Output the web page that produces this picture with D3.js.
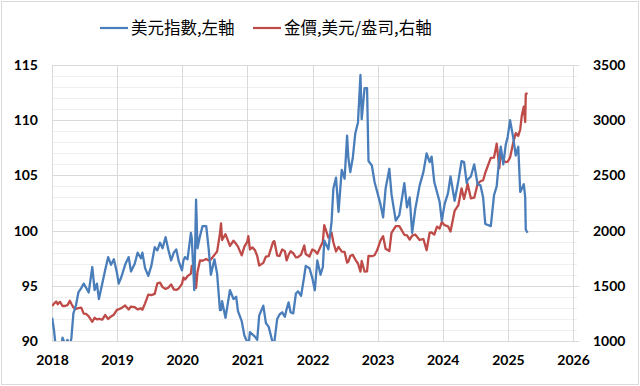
<!DOCTYPE html>
<meta charset="utf-8">
<style>
  body { margin: 0; background: #fff; }
  .tick text { font-family: Lato, "Open Sans", sans-serif; font-weight: 700; font-size: 14px; fill: #000; }
  .legend text { font-family: "Noto Sans CJK TC", "Noto Sans", sans-serif; font-size: 16.5px; fill: #000; }
</style>
<div id="chart"></div>
<script src="https://d3js.org/d3.v7.min.js"></script>
<script>

// dates with both series
var dates = [
  "2018-01-02","2018-01-12","2018-01-25","2018-02-02","2018-02-15","2018-03-01","2018-03-15","2018-03-29","2018-04-11","2018-04-20",
  "2018-05-01","2018-05-15","2018-05-29","2018-06-14","2018-06-28","2018-07-12","2018-07-26","2018-08-15","2018-08-28","2018-09-10",
  "2018-09-21","2018-10-10","2018-10-26","2018-11-12","2018-11-28","2018-12-14","2018-12-31",
  "2019-01-10","2019-01-25","2019-02-15","2019-03-07","2019-03-20","2019-04-10","2019-04-26","2019-05-15","2019-05-23","2019-06-07",
  "2019-06-25","2019-07-12","2019-07-31","2019-08-15","2019-08-30","2019-09-13","2019-09-30","2019-10-15","2019-10-31","2019-11-15",
  "2019-11-29","2019-12-13","2019-12-31",
  "2020-01-08","2020-01-17","2020-01-31","2020-02-19","2020-02-24","2020-03-09","2020-03-19","2020-03-27","2020-04-10","2020-04-24",
  "2020-05-15","2020-05-29","2020-06-10","2020-06-30","2020-07-15","2020-07-31","2020-08-06","2020-08-12","2020-08-31","2020-09-25",
  "2020-10-15","2020-10-30","2020-11-09","2020-11-30","2020-12-15","2020-12-31",
  "2021-01-06","2021-01-15","2021-01-29","2021-02-12","2021-02-25","2021-03-08","2021-03-31","2021-04-15","2021-04-30","2021-05-25",
  "2021-06-01","2021-06-17","2021-06-30","2021-07-15","2021-07-30","2021-08-09","2021-08-20","2021-08-31","2021-09-15","2021-09-30",
  "2021-10-12","2021-10-29","2021-11-16","2021-11-24","2021-12-15","2021-12-31",
  "2022-01-14","2022-01-28","2022-02-15","2022-02-28","2022-03-08","2022-03-31","2022-04-18","2022-04-28","2022-05-13","2022-05-27",
  "2022-06-14","2022-06-30","2022-07-14","2022-07-21","2022-08-01","2022-08-15","2022-08-29","2022-09-13","2022-09-27","2022-10-04",
  "2022-10-20","2022-11-03","2022-11-11","2022-11-30","2022-12-15","2022-12-30",
  "2023-01-17","2023-02-01","2023-02-15","2023-03-08","2023-03-20","2023-04-13","2023-05-03","2023-05-31","2023-06-15","2023-06-30",
  "2023-07-14","2023-07-31","2023-08-25","2023-09-15","2023-10-03","2023-10-20","2023-10-31","2023-11-15","2023-11-30","2023-12-15",
  "2023-12-27",
  "2024-01-12","2024-01-31","2024-02-14","2024-03-08","2024-03-29","2024-04-16","2024-04-30","2024-05-15","2024-05-20","2024-06-07",
  "2024-06-26","2024-07-15","2024-07-31","2024-08-15","2024-08-27","2024-09-27","2024-10-15","2024-10-30","2024-11-14","2024-11-22",
  "2024-12-06","2024-12-20","2024-12-31",
  "2025-01-13","2025-01-31","2025-02-14","2025-02-28","2025-03-11","2025-03-20","2025-03-31","2025-04-08","2025-04-11","2025-04-21"
];

var dollarIndex = [
  92.1,91.0,89.0,89.2,88.6,90.3,89.7,90.1,89.5,90.3,
  92.5,93.2,94.4,94.8,95.2,94.8,94.4,96.7,94.6,95.2,
  93.8,95.2,96.4,97.6,96.9,97.4,96.2,
  95.2,95.8,96.9,97.6,96.3,97.0,98.0,97.5,98.0,96.6,
  95.9,96.8,98.5,98.2,98.9,98.4,99.4,98.3,97.3,98.0,
  98.3,97.2,96.4,
  97.3,97.6,97.4,99.8,99.3,94.6,102.8,98.4,99.5,100.4,
  100.4,98.3,96.0,97.4,96.1,92.8,92.8,93.6,92.1,94.6,
  93.8,94.0,92.7,91.8,90.5,89.9,
  89.4,90.8,90.6,90.4,90.1,92.3,93.2,91.6,91.3,89.7,
  89.9,92.0,92.4,92.6,92.2,92.9,93.5,92.6,92.5,94.3,
  94.5,94.1,95.9,96.8,96.6,95.7,
  94.6,97.3,96.0,96.7,99.1,98.3,100.8,103.8,104.8,101.7,
  105.5,104.7,108.6,106.6,105.3,106.6,108.8,109.8,114.1,110.1,
  112.9,112.9,106.3,105.9,104.4,103.5,
  102.4,101.2,103.8,105.6,103.3,100.9,101.4,104.3,102.1,103.0,
  99.8,101.9,104.1,105.3,107.0,106.2,106.7,104.4,103.5,102.6,
  100.9,
  102.4,103.4,104.9,102.7,104.5,106.3,106.2,104.3,104.6,104.9,
  106.0,104.2,104.1,103.0,100.6,100.4,103.2,104.0,106.7,107.6,
  106.0,107.8,108.5,
  110.0,108.4,106.8,107.6,103.5,103.8,104.2,103.0,100.1,99.8
];

var goldPrice = [
  1316,1338,1358,1333,1354,1317,1317,1325,1365,1335,
  1305,1290,1298,1302,1248,1245,1223,1174,1210,1196,
  1200,1193,1235,1200,1222,1238,1282,
  1287,1298,1322,1286,1312,1306,1286,1296,1283,1341,
  1420,1415,1427,1523,1529,1488,1472,1482,1513,1468,
  1463,1476,1517,
  1575,1557,1587,1611,1680,1680,1480,1625,1730,1727,
  1743,1730,1738,1780,1810,1975,2065,1915,1968,1861,
  1908,1878,1855,1776,1855,1898,
  1950,1829,1848,1823,1770,1683,1708,1765,1768,1898,
  1905,1774,1770,1829,1814,1730,1781,1813,1795,1757,
  1760,1783,1865,1788,1765,1829,
  1817,1791,1855,1900,2050,1937,1980,1894,1811,1853,
  1809,1807,1710,1718,1772,1780,1738,1702,1629,1725,
  1629,1630,1771,1768,1777,1824,
  1909,1950,1836,1815,1980,2040,2041,1962,1957,1919,
  1955,1965,1915,1924,1822,1981,1983,1964,2036,2019,
  2077,
  2049,2039,1992,2178,2230,2383,2286,2385,2425,2293,
  2298,2422,2447,2456,2524,2658,2662,2787,2565,2712,
  2633,2621,2624,
  2663,2798,2883,2858,2916,3043,3123,2982,3237,3245
];

var yearTicks = [2018,2019,2020,2021,2022,2023,2024,2025,2026];
var leftTicks = [90,95,100,105,110,115];
var rightTicks = [1000,1500,2000,2500,3000,3500];
var seriesNames = ["美元指數,左軸", "金價,美元/盎司,右軸"];
var seriesColors = ["#4a7ebb", "#be4b48"];

var width = 640, height = 386;
var margin = {top: 65, right: 67, bottom: 45, left: 52};
var innerW = width - margin.left - margin.right,
    innerH = height - margin.top - margin.bottom;

var parse = d3.timeParse("%Y-%m-%d");
var rows = dates.map(function(d, i) {
  return {date: parse(d), dxy: dollarIndex[i], gold: goldPrice[i]};
});

var x = d3.scaleTime()
  .domain([new Date(2018, 0, 1), new Date(2026, 0, 1)])
  .range([0, innerW]);
var yL = d3.scaleLinear().domain([90, 115]).range([innerH, 0]);
var yR = d3.scaleLinear().domain([1000, 3500]).range([innerH, 0]);

var svg = d3.select("#chart").append("svg")
  .attr("width", width)
  .attr("height", height);

svg.append("rect")
  .attr("x", 1.5).attr("y", 1.5)
  .attr("width", width - 3).attr("height", height - 3)
  .attr("fill", "#fff")
  .attr("stroke", "#d9d9d9");

var g = svg.append("g")
  .attr("transform", "translate(" + margin.left + "," + margin.top + ")");

// minor gridlines, every 1 unit on the left axis
g.append("g")
  .selectAll("line")
  .data(d3.range(90, 116, 1).filter(function(v) { return v % 5 != 0; }))
  .join("line")
    .attr("x1", 0).attr("x2", innerW + 4)
    .attr("y1", function(d) { return Math.round(yL(d)) + 0.5; })
    .attr("y2", function(d) { return Math.round(yL(d)) + 0.5; })
    .attr("stroke", "#efefef");

// major gridlines
g.append("g")
  .selectAll("line")
  .data(leftTicks)
  .join("line")
    .attr("x1", 0).attr("x2", innerW + 6)
    .attr("y1", function(d) { return Math.round(yL(d)) + 0.5; })
    .attr("y2", function(d) { return Math.round(yL(d)) + 0.5; })
    .attr("stroke", "#d9d9d9");

g.append("g")
  .selectAll("line")
  .data(yearTicks)
  .join("line")
    .attr("x1", function(d) { return Math.round(x(new Date(d, 0, 1))) + 0.5; })
    .attr("x2", function(d) { return Math.round(x(new Date(d, 0, 1))) + 0.5; })
    .attr("y1", 0).attr("y2", innerH)
    .attr("stroke", "#d9d9d9");

// axes (labels only, the lines are the grid)
var xAxis = g.append("g")
  .attr("transform", "translate(0," + innerH + ")")
  .call(d3.axisBottom(x)
    .tickValues(yearTicks.map(function(d) { return new Date(d, 0, 1); }))
    .tickFormat(d3.timeFormat("%Y"))
    .tickSize(0).tickPadding(14));

var leftAxis = g.append("g")
  .call(d3.axisLeft(yL).tickValues(leftTicks).tickSize(0).tickPadding(14));

var rightAxis = g.append("g")
  .attr("transform", "translate(" + innerW + ",0)")
  .call(d3.axisRight(yR).tickValues(rightTicks).tickFormat(d3.format("d"))
    .tickSize(0).tickPadding(20));

[xAxis, leftAxis, rightAxis].forEach(function(a) { a.select(".domain").remove(); });

// lines
g.append("clipPath").attr("id", "plot")
  .append("rect").attr("x", 0).attr("y", 0).attr("width", innerW).attr("height", innerH);

var lineL = d3.line()
  .x(function(d) { return x(d.date); })
  .y(function(d) { return yL(d.dxy); });
var lineR = d3.line()
  .x(function(d) { return x(d.date); })
  .y(function(d) { return yR(d.gold); });

var lines = g.append("g").attr("clip-path", "url(#plot)");

lines.append("path")
  .datum(rows)
  .attr("fill", "none")
  .attr("stroke", seriesColors[1])
  .attr("stroke-width", 2.3)
  .attr("stroke-linejoin", "round")
  .attr("d", lineR);

lines.append("path")
  .datum(rows)
  .attr("fill", "none")
  .attr("stroke", seriesColors[0])
  .attr("stroke-width", 2.3)
  .attr("stroke-linejoin", "round")
  .attr("d", lineL);

// legend
var legendX = [100, 253];
var legend = svg.append("g").attr("class", "legend");
seriesNames.forEach(function(name, i) {
  legend.append("line")
    .attr("x1", legendX[i]).attr("x2", legendX[i] + 28)
    .attr("y1", 28).attr("y2", 28)
    .attr("stroke", seriesColors[i])
    .attr("stroke-width", 2.2);
  legend.append("text")
    .attr("x", legendX[i] + 31)
    .attr("y", 28)
    .attr("dy", "0.35em")
    .text(name);
});

</script>
